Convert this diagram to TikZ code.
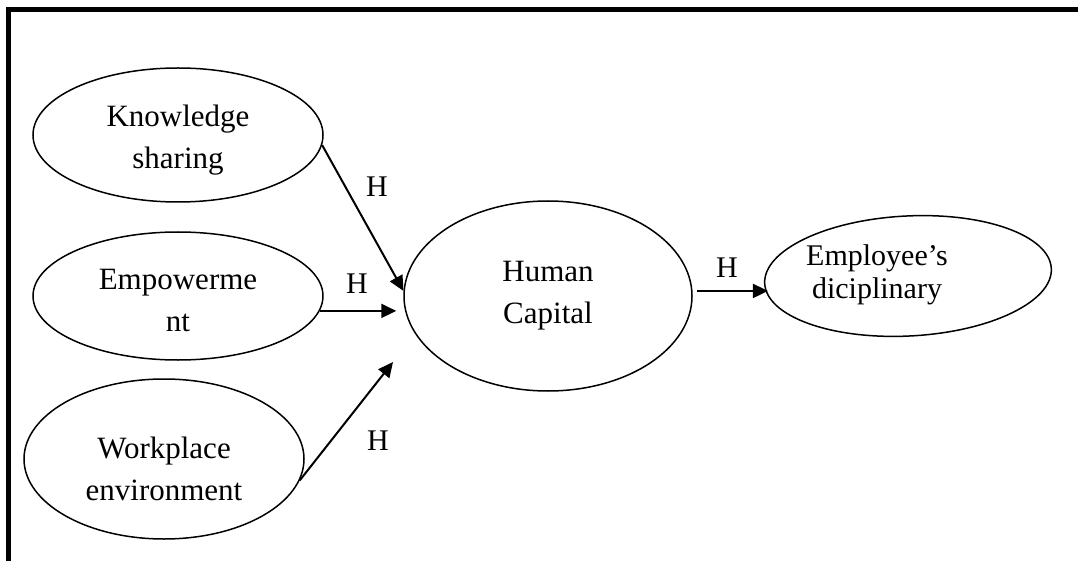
\documentclass[tikz,border=0pt]{standalone}
\usepackage{fontspec}
\setmainfont{Liberation Serif}
\usetikzlibrary{shapes.geometric,arrows.meta}
\begin{document}
\begin{tikzpicture}[x=1pt,y=-1pt,
  construct/.style={ellipse,draw,line width=1.5pt,inner sep=0pt},
  caption/.style={align=center,inner sep=0pt,font=\fontsize{31}{42}\selectfont},
  smallcaption/.style={caption,font=\fontsize{30}{33}\selectfont},
  path/.style={line width=2pt,-{Triangle[length=15pt,width=14pt]}},
  hyp/.style={anchor=base,inner sep=0pt,font=\fontsize{30}{36}\selectfont}]
  \useasboundingbox (0,0) rectangle (1078,561);
  % open frame: top and left rules only
  \draw[line width=5pt] (8.5,561) -- (8.5,9.5) -- (1078,9.5);

  % constructs
  \node[construct,minimum width=290pt,minimum height=134pt] (ks) at (178,135) {};
  \node[construct,minimum width=290pt,minimum height=128pt] (em) at (178,296) {};
  \node[construct,minimum width=280pt,minimum height=160pt] (wp) at (164,459) {};
  \node[construct,minimum width=288pt,minimum height=190pt] (hc) at (548,296) {};
  \node[construct,minimum width=287pt,minimum height=120pt,rotate=3] (ee) at (908,276) {};

  % construct names
  \node[caption] (kst) at (178,140) {Knowledge\\sharing};
  \node[caption] (emt) at (178,301) {Empowerme\\nt};
  \node[caption] (wpt) at (164,469) {Workplace\\environment};
  \node[caption] (hct) at (548,296) {Human\\Capital};
  \node[smallcaption] (eet) at (877,275) {Employee’s\\diciplinary};

  % hypothesised paths
  \coordinate (wptip) at (393,362);
  \draw[path] (ks.-4) -- (hc.178);
  \draw[path,shorten >=7pt] (em.-6) -- (em.-6 -| hc.west);
  \draw[path] (wp.-9) -- (wptip);
  \draw[path,shorten <=4pt,shorten >=-4pt] (hc.2) -- (hc.2 -| ee.west);

  % path labels
  \node[hyp] (h1) at (377,197) {H};
  \node[hyp] (h2) at (357,293) {H};
  \node[hyp] (h3) at (378,450) {H};
  \node[hyp] (h4) at (727,277) {H};
\end{tikzpicture}
\end{document}
